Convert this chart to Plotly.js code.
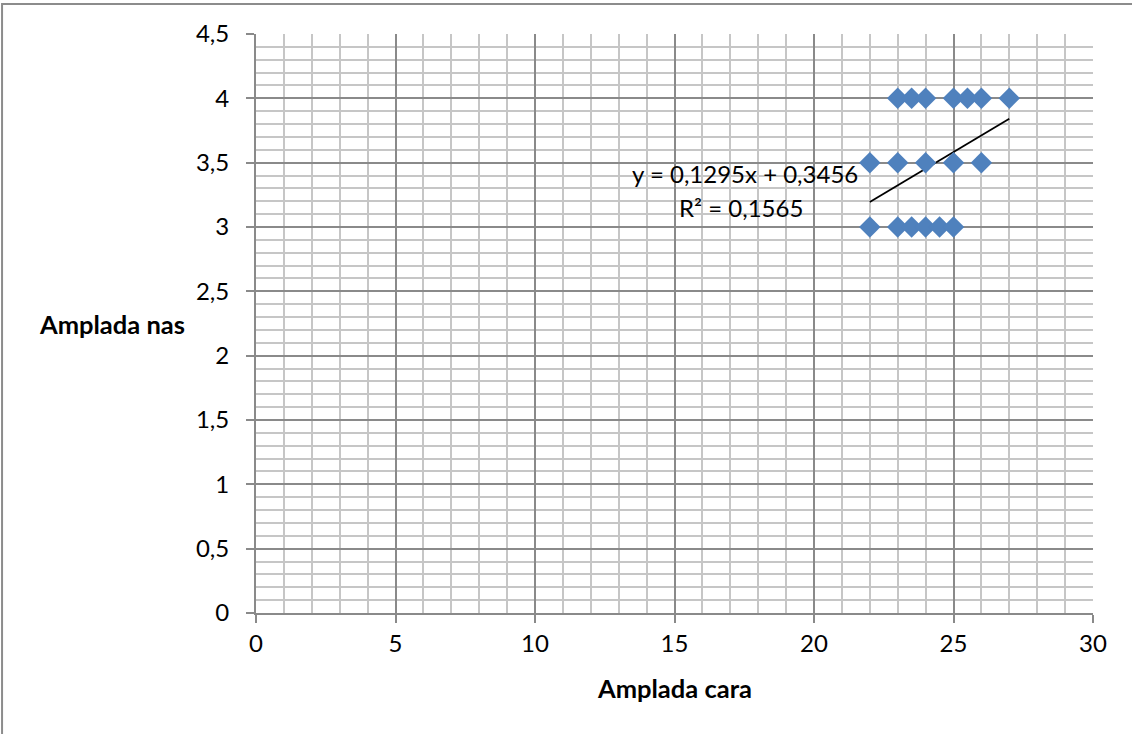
<!DOCTYPE html>
<html>
<head>
<meta charset="utf-8">
<script src="https://cdn.plot.ly/plotly-3.0.1.min.js"></script>
<style>html,body{margin:0;padding:0;background:#fff;}#chart{width:1132px;height:734px;}</style>
</head>
<body>
<div id="chart"></div>
<script>
// Data
const amplaCara = [23, 23.5, 24, 25, 25.5, 26, 27, 22, 23, 24, 25, 26, 22, 23, 23.5, 24, 24.5, 25];
const amplaNas  = [4, 4, 4, 4, 4, 4, 4, 3.5, 3.5, 3.5, 3.5, 3.5, 3, 3, 3, 3, 3, 3];
const trendSlope = 0.1295;
const trendIntercept = 0.3456;
const trendR2 = 0.1565;
const trendX = [22, 27];
const xTickStep = 5;
const yTickStep = 0.5;

const trendY = trendX.map(x => trendSlope * x + trendIntercept);
const fmt = v => v.toFixed(4).replace('.', ',');

const font = "Lato, 'Open Sans', 'DejaVu Sans', sans-serif";

const traces = [
  {
    x: trendX, y: trendY, type: 'scatter', mode: 'lines',
    line: {color: '#000000', width: 1.8}, hoverinfo: 'skip', showlegend: false
  },
  {
    x: amplaCara, y: amplaNas, type: 'scatter', mode: 'markers',
    marker: {symbol: 'diamond', size: 16.5, color: '#4F81BD', line: {width: 0}},
    showlegend: false
  }
];

const layout = {
  width: 1132, height: 734,
  margin: {l: 256, r: 39, t: 34, b: 121},
  paper_bgcolor: '#ffffff', plot_bgcolor: '#ffffff',
  separators: ', ',
  font: {family: font, size: 24, color: '#000000'},
  showlegend: false,
  xaxis: {
    range: [0, 30], tickmode: 'linear', tick0: 0, dtick: xTickStep,
    showgrid: true, gridcolor: '#8a8a8a', gridwidth: 2,
    minor: {dtick: 1, tick0: 0, showgrid: true, gridcolor: '#c6c6c6', gridwidth: 2, ticks: ''},
    showline: true, linecolor: '#8a8a8a', linewidth: 2,
    ticks: 'outside', ticklen: 8, tickcolor: '#8a8a8a', tickwidth: 2,
    zeroline: false, mirror: false,
    tickfont: {family: font, size: 24, color: '#000'}
  },
  yaxis: {
    range: [0, 4.5], tickmode: 'linear', tick0: 0, dtick: yTickStep,
    showgrid: true, gridcolor: '#8a8a8a', gridwidth: 2,
    minor: {dtick: 0.1, tick0: 0, showgrid: true, gridcolor: '#c6c6c6', gridwidth: 2, ticks: ''},
    showline: true, linecolor: '#8a8a8a', linewidth: 2,
    ticks: 'outside', ticklen: 8, tickcolor: '#8a8a8a', tickwidth: 2,
    zeroline: false,
    tickfont: {family: font, size: 24, color: '#000'},
    ticklabelstandoff: 12
  },
  annotations: [
    {xref: 'paper', yref: 'paper', x: 0.5, y: 0, yshift: -75, xanchor: 'center', yanchor: 'middle',
     text: '<b>Amplada cara</b>', showarrow: false, font: {family: font, size: 25.5, color: '#000'}},
    {xref: 'paper', yref: 'paper', x: 0, xshift: -144, y: 0.5, xanchor: 'center', yanchor: 'middle',
     text: '<b>Amplada nas</b>', showarrow: false, font: {family: font, size: 25.5, color: '#000'}},
    {xref: 'x', yref: 'y', x: 17.51, y: 3.415, xanchor: 'center', yanchor: 'middle',
     text: 'y = ' + fmt(trendSlope) + 'x + ' + fmt(trendIntercept), showarrow: false,
     font: {family: font, size: 24, color: '#000'}},
    {xref: 'x', yref: 'y', x: 17.37, y: 3.148, xanchor: 'center', yanchor: 'middle',
     text: 'R² = ' + fmt(trendR2), showarrow: false,
     font: {family: font, size: 24, color: '#000'}}
  ],
  shapes: [
    {type: 'rect', xref: 'paper', yref: 'paper', x0: -0.3034, x1: 1.2, y0: -0.4, y1: 1.0518,
     line: {color: '#8c8c8c', width: 2}, fillcolor: 'rgba(0,0,0,0)', layer: 'below'}
  ]
};

Plotly.newPlot('chart', traces, layout, {displayModeBar: false, staticPlot: true});
</script>
</body>
</html>
